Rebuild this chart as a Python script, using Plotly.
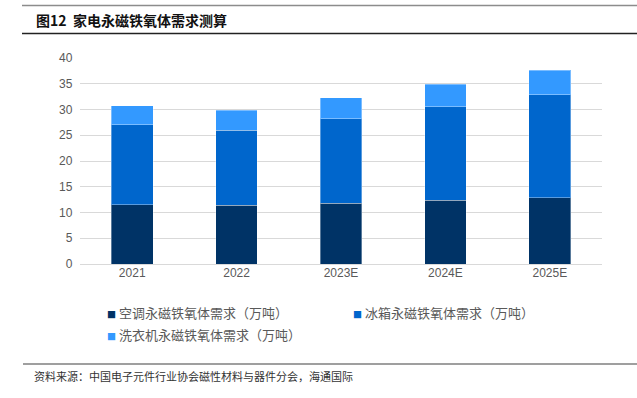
import plotly.graph_objects as go

categories = ["2021", "2022", "2023E", "2024E", "2025E"]
ac_demand = [11.5, 11.4, 11.8, 12.4, 12.9]
fridge_demand = [15.5, 14.6, 16.4, 18.1, 20.0]
washer_demand = [3.7, 3.9, 4.1, 4.4, 4.7]
series_names = ["空调永磁铁氧体需求（万吨）", "冰箱永磁铁氧体需求（万吨）", "洗衣机永磁铁氧体需求（万吨）"]
colors = ["#003366", "#0066CC", "#3399FF"]

title_text = "图12  家电永磁铁氧体需求测算"
source_text = "资料来源：中国电子元件行业协会磁性材料与器件分会，海通国际"

W, H = 637, 398
font_cjk = "Noto Sans CJK SC, Noto Sans, sans-serif"

fig = go.Figure()
for name, vals, c in zip(series_names, [ac_demand, fridge_demand, washer_demand], colors):
    fig.add_trace(go.Bar(
        x=categories, y=vals, name=name,
        marker=dict(color=c, line=dict(color="rgba(255,255,255,0.35)", width=1)),
        width=0.4,
    ))

fig.update_layout(
    barmode="stack",
    width=W, height=H,
    paper_bgcolor="white", plot_bgcolor="white",
    margin=dict(l=80, r=35, t=58, b=134),
    showlegend=False,
    font=dict(family="Liberation Sans, Arial, sans-serif", size=12, color="#595959"),
    xaxis=dict(showgrid=False, showline=False, ticks="", tickfont=dict(size=12, color="#595959")),
    yaxis=dict(range=[0, 40], dtick=5, showgrid=True, gridcolor="#D9D9D9", gridwidth=1,
               zeroline=True, zerolinecolor="#D9D9D9", zerolinewidth=1,
               showline=False, ticks="", ticksuffix="  ", tickfont=dict(size=12, color="#595959")),
)

shapes = [
    dict(type="line", xref="paper", yref="paper", x0=-58/522, x1=(637-80)/522,
         y0=1 + (58-5.5)/206, y1=1 + (58-5.5)/206, line=dict(color="#8C8C8C", width=1.5)),
    dict(type="line", xref="paper", yref="paper", x0=-58/522, x1=(637-80)/522,
         y0=1 + (58-33.5)/206, y1=1 + (58-33.5)/206, line=dict(color="#222222", width=1.5)),
    dict(type="line", xref="paper", yref="paper", x0=-57/522, x1=(637-80)/522,
         y0=-(364-264)/206, y1=-(364-264)/206, line=dict(color="#7F7F7F", width=1.5)),
]
fig.update_layout(shapes=shapes)

def px_x(px):
    return (px - 80) / 522

def px_y(py):
    return (264 - py) / 206

annotations = [
    dict(text="<b>" + title_text + "</b>", x=px_x(34), y=px_y(20), xref="paper", yref="paper",
         xanchor="left", yanchor="middle", showarrow=False,
         font=dict(family=font_cjk, size=14, color="#111111")),
    dict(text=source_text, x=px_x(32), y=px_y(376), xref="paper", yref="paper",
         xanchor="left", yanchor="middle", showarrow=False,
         font=dict(family=font_cjk, size=11, color="#333333")),
]
legend_pos = [(105, 312), (351, 312), (105, 334)]
for name, c, (lx, ly) in zip(series_names, colors, legend_pos):
    annotations.append(dict(
        text='<span style="color:%s;font-size:9px">■</span> %s' % (c, name),
        x=px_x(lx), y=px_y(ly), xref="paper", yref="paper",
        xanchor="left", yanchor="middle", showarrow=False,
        font=dict(family=font_cjk, size=13, color="#595959")))
fig.update_layout(annotations=annotations)

fig.write_html("out.html", config={"displayModeBar": False},
               post_script="document.body.style.margin='0';document.body.style.overflow='hidden';")
